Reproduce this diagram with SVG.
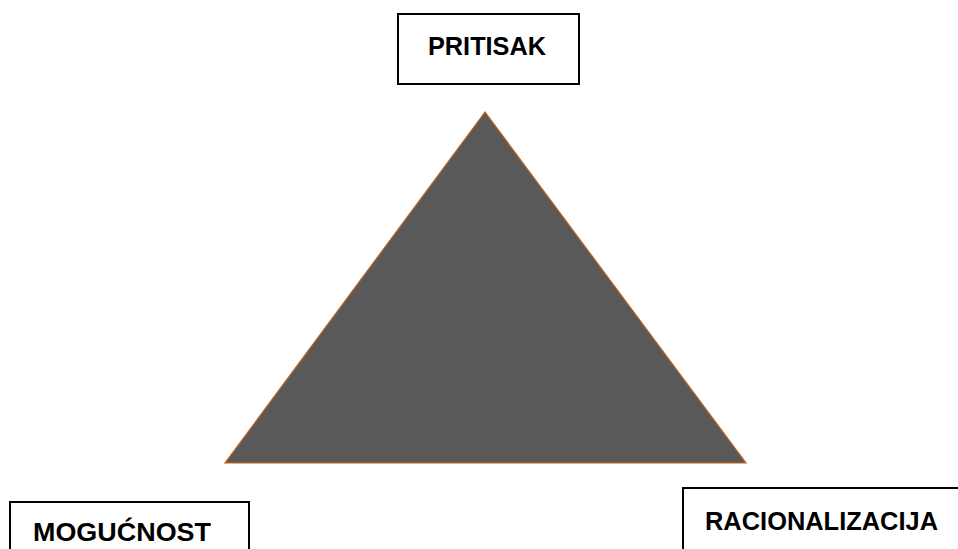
<svg xmlns="http://www.w3.org/2000/svg" width="958" height="549" viewBox="0 0 958 549">
<style>
.box{fill:#fff;stroke:#000;stroke-width:2}
.lbl{font-family:"Liberation Sans",Arial,sans-serif;font-weight:bold;font-size:26.5px;fill:#000}
</style>
<rect width="958" height="549" fill="#fff"/>
<g id="triangle">
<polygon points="485,112 225,463 746,463" fill="#595959" stroke="#c46218" stroke-width="1.2"/>
</g>
<g id="pritisak">
<rect class="box" x="398" y="14" width="181" height="70"/>
<text class="lbl" x="428" y="55" textLength="118" lengthAdjust="spacingAndGlyphs">PRITISAK</text>
</g>
<g id="mogucnost">
<rect class="box" x="10" y="502" width="239" height="60"/>
<text class="lbl" x="33" y="541" textLength="178" lengthAdjust="spacingAndGlyphs">MOGUĆNOST</text>
</g>
<g id="racionalizacija">
<rect class="box" x="683" y="488" width="290" height="80"/>
<text class="lbl" x="705" y="530" textLength="233" lengthAdjust="spacingAndGlyphs">RACIONALIZACIJA</text>
</g>
<g id="connectors"/>
</svg>
